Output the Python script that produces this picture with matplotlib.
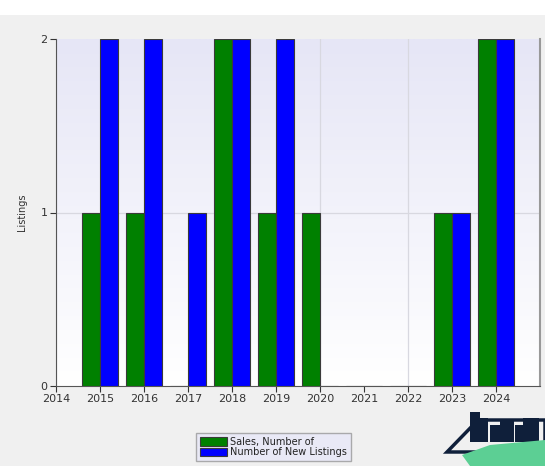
import numpy as np
import matplotlib
matplotlib.use("Agg")
import matplotlib.pyplot as plt
from matplotlib.patches import Rectangle, Polygon
from matplotlib.colors import LinearSegmentedColormap

years = [2015, 2016, 2017, 2018, 2019, 2020, 2021, 2022, 2023, 2024]
sales = [1, 1, 0, 2, 1, 1, 0, 0, 1, 2]
new_listings = [2, 2, 1, 2, 2, 0, 0, 0, 1, 2]
xtick_labels = [str(y) for y in range(2014, 2025)]
series_names = ["Sales, Number of", "Number of New Listings"]

fig = plt.figure(figsize=(5.45, 4.66), dpi=100)
fig.patch.set_facecolor("#f0f0f0")
fig.add_artist(Rectangle((0, 1 - 15 / 466), 1, 15 / 466, transform=fig.transFigure,
                         facecolor="white", edgecolor="none", zorder=0))

ax = fig.add_axes([56 / 545, 80 / 466, 484 / 545, 347 / 466])
ax.set_xlim(2014, 2025)
ax.set_ylim(0, 2)

grad = np.linspace(0, 1, 256).reshape(-1, 1)
cmap = LinearSegmentedColormap.from_list("bg", ["#ffffff", "#e6e6f6"])
ax.imshow(grad, extent=[0, 1, 0, 1], transform=ax.transAxes, origin="lower",
          cmap=cmap, aspect="auto", zorder=0)

for gx in range(2014, 2026, 2):
    ax.axvline(gx, color="#d8d8e0", lw=0.9, zorder=1)
ax.axhline(1, color="#d8d8e0", lw=0.9, zorder=1)

x = np.array(years, dtype=float)
w = 0.4
ax.bar(x - w / 2, sales, width=w, color="#008000", edgecolor="#3a3a3a",
       linewidth=0.8, zorder=3, label=series_names[0])
ax.bar(x + w / 2, new_listings, width=w, color="#0000ff", edgecolor="#3a3a3a",
       linewidth=0.8, zorder=3, label=series_names[1])

ax.set_xticks(range(2014, 2025))
ax.set_xticklabels(xtick_labels)
ax.set_yticks([0, 1, 2])
ax.tick_params(axis="both", labelsize=8, colors="#333333", length=4, width=0.8,
               direction="out", pad=2)
ax.spines["top"].set_visible(False)
ax.spines["left"].set_color("#555555")
ax.spines["bottom"].set_color("#555555")
ax.spines["right"].set_color("#999999")
ax.spines["right"].set_linewidth(1.5)
ax.set_ylabel("Listings", fontsize=7, color="#333333", labelpad=10)

leg = fig.legend(loc="upper left", bbox_to_anchor=(196 / 545, 1 - 433 / 466),
                 fontsize=7, frameon=True, fancybox=False, handlelength=2.8,
                 handleheight=1.0, borderpad=0.4, labelspacing=0.05,
                 handletextpad=0.3, borderaxespad=0)
leg.get_frame().set_facecolor("#e8e8f8")
leg.get_frame().set_edgecolor("#999999")
for t in leg.get_texts():
    t.set_color("#222222")

# rough logo decoration bottom right
navy = "#0f1f3a"
fig.add_artist(Polygon([(447/545, 1-452/466), (478/545, 1-420/466), (545/545, 1-420/466),
                        (545/545, 1-452/466)], closed=True, transform=fig.transFigure,
                       facecolor="none", edgecolor=navy, lw=2.5))
for (x0, y0, ww, hh) in [(470, 412, 10, 30), (480, 418, 8, 24), (490, 425, 10, 17),
                          (500, 420, 14, 22), (515, 425, 8, 17), (523, 418, 16, 24)]:
    fig.add_artist(Rectangle((x0/545, 1-(y0+hh)/466), ww/545, hh/466,
                             transform=fig.transFigure, facecolor=navy, edgecolor="none"))
fig.add_artist(Polygon([(462/545, 1-455/466), (490/545, 1-445/466), (545/545, 1-440/466),
                        (545/545, 1-466/466), (470/545, 1-466/466)], closed=True,
                       transform=fig.transFigure, facecolor="#5ccf94", edgecolor="none"))

fig.savefig("out.png", dpi=100, facecolor=fig.get_facecolor())
